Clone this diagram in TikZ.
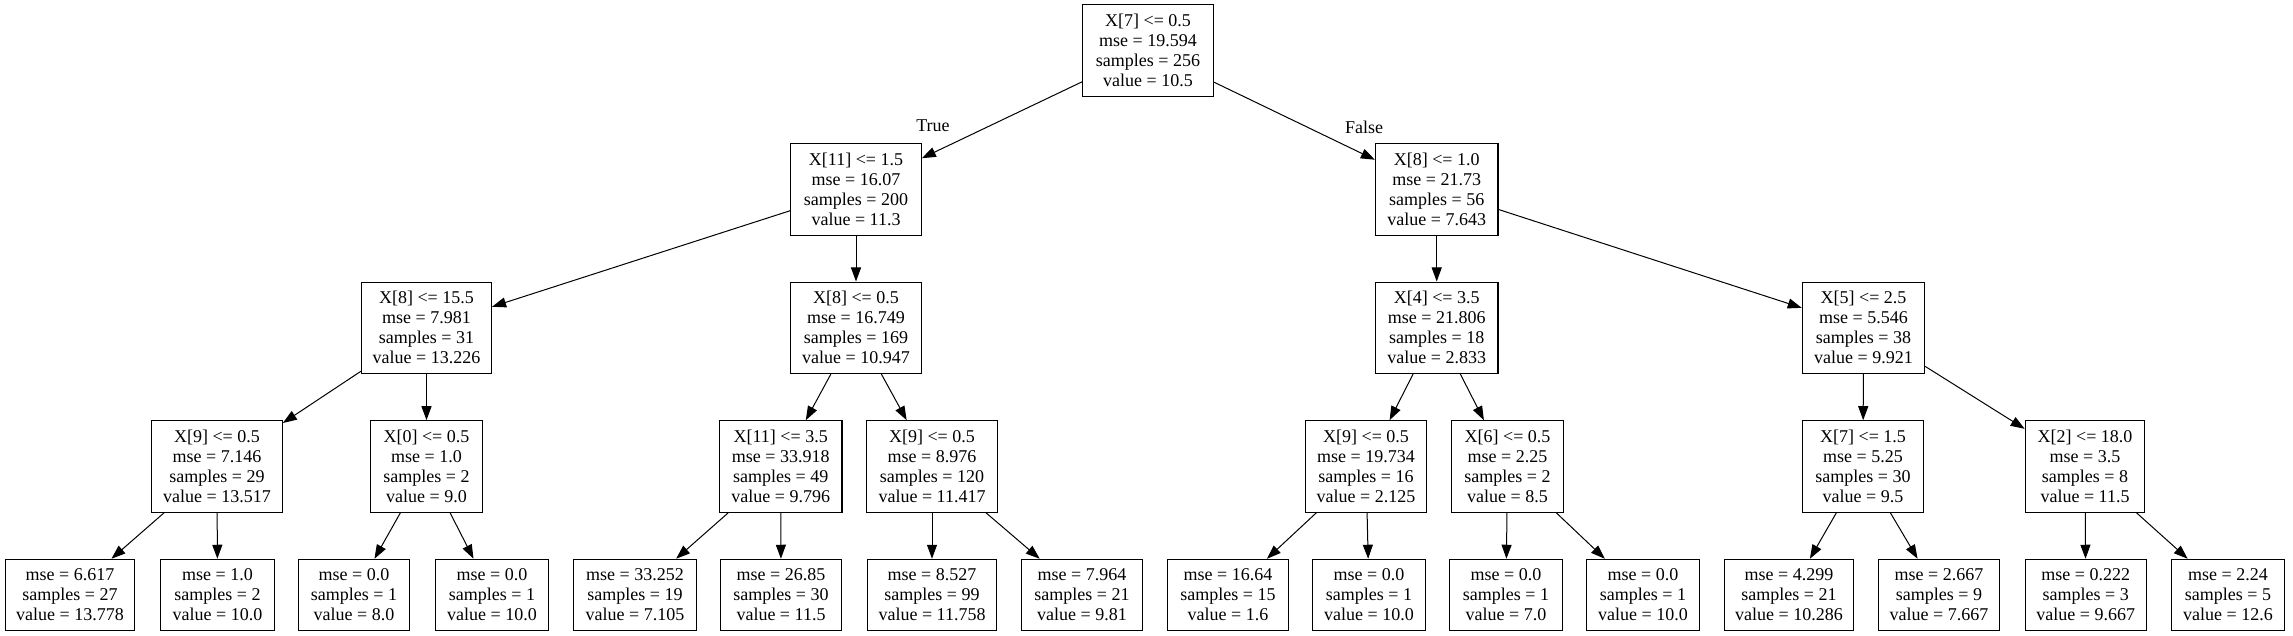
\documentclass[tikz,border=0pt]{standalone}
\usepackage{fontspec}
\setmainfont{Liberation Serif}
\usetikzlibrary{arrows.meta}
\tikzset{
  tnode/.style={draw, line width=1.1pt, rectangle, align=center, inner sep=0pt,
    font=\fontsize{18}{20}\selectfont, minimum height=91.5pt},
  leaf/.style={tnode, minimum height=71.4pt},
  edge/.style={line width=1pt, -{Triangle[length=14pt,width=10pt]}},
  elabel/.style={font=\fontsize{18}{20}\selectfont, inner sep=0pt}
}
\begin{document}
\begin{tikzpicture}[x=1pt,y=-1pt]
\useasboundingbox[fill=white] (0,0) rectangle (2293,636);
% level 0
\node[tnode, minimum width=131pt] (n0) at (1148,50.5) {X[7] <= 0.5\\mse = 19.594\\samples = 256\\value = 10.5};
% level 1
\node[tnode, minimum width=130.6pt] (n1) at (856,189.5) {X[11] <= 1.5\\mse = 16.07\\samples = 200\\value = 11.3};
\node[tnode, minimum width=122.5pt] (n2) at (1436.7,189.5) {X[8] <= 1.0\\mse = 21.73\\samples = 56\\value = 7.643};
% level 2
\node[tnode, minimum width=130pt] (n3) at (426.5,327.8) {X[8] <= 15.5\\mse = 7.981\\samples = 31\\value = 13.226};
\node[tnode, minimum width=130.6pt] (n4) at (856,327.8) {X[8] <= 0.5\\mse = 16.749\\samples = 169\\value = 10.947};
\node[tnode, minimum width=122.5pt] (n5) at (1436.7,327.8) {X[4] <= 3.5\\mse = 21.806\\samples = 18\\value = 2.833};
\node[tnode, minimum width=122.4pt] (n6) at (1863.5,327.8) {X[5] <= 2.5\\mse = 5.546\\samples = 38\\value = 9.921};
% level 3
\node[tnode, minimum width=130.6pt] (n7) at (217,466.5) {X[9] <= 0.5\\mse = 7.146\\samples = 29\\value = 13.517};
\node[tnode, minimum width=112.2pt] (n8) at (426.5,466.5) {X[0] <= 0.5\\mse = 1.0\\samples = 2\\value = 9.0};
\node[tnode, minimum width=122.5pt] (n9) at (780.7,466.5) {X[11] <= 3.5\\mse = 33.918\\samples = 49\\value = 9.796};
\node[tnode, minimum width=130.5pt] (n10) at (932,466.5) {X[9] <= 0.5\\mse = 8.976\\samples = 120\\value = 11.417};
\node[tnode, minimum width=121.8pt] (n11) at (1366,466.5) {X[9] <= 0.5\\mse = 19.734\\samples = 16\\value = 2.125};
\node[tnode, minimum width=111.5pt] (n12) at (1507.5,466.5) {X[6] <= 0.5\\mse = 2.25\\samples = 2\\value = 8.5};
\node[tnode, minimum width=121.7pt] (n13) at (1863,466.5) {X[7] <= 1.5\\mse = 5.25\\samples = 30\\value = 9.5};
\node[tnode, minimum width=119.6pt] (n14) at (2085,466.5) {X[2] <= 18.0\\mse = 3.5\\samples = 8\\value = 11.5};
% leaves
\node[leaf, minimum width=128.3pt] (l1) at (70,595) {mse = 6.617\\samples = 27\\value = 13.778};
\node[leaf, minimum width=113.7pt] (l2) at (217.5,595) {mse = 1.0\\samples = 2\\value = 10.0};
\node[leaf, minimum width=111.5pt] (l3) at (354,595) {mse = 0.0\\samples = 1\\value = 8.0};
\node[leaf, minimum width=113pt] (l4) at (492,595) {mse = 0.0\\samples = 1\\value = 10.0};
\node[leaf, minimum width=122.5pt] (l5) at (635,595) {mse = 33.252\\samples = 19\\value = 7.105};
\node[leaf, minimum width=121.8pt] (l6) at (781,595) {mse = 26.85\\samples = 30\\value = 11.5};
\node[leaf, minimum width=129.8pt] (l7) at (932,595) {mse = 8.527\\samples = 99\\value = 11.758};
\node[leaf, minimum width=121pt] (l8) at (1082,595) {mse = 7.964\\samples = 21\\value = 9.81};
\node[leaf, minimum width=120.2pt] (l9) at (1228,595) {mse = 16.64\\samples = 15\\value = 1.6};
\node[leaf, minimum width=112.9pt] (l10) at (1369,595) {mse = 0.0\\samples = 1\\value = 10.0};
\node[leaf, minimum width=112.2pt] (l11) at (1506,595) {mse = 0.0\\samples = 1\\value = 7.0};
\node[leaf, minimum width=112.3pt] (l12) at (1643,595) {mse = 0.0\\samples = 1\\value = 10.0};
\node[leaf, minimum width=129.8pt] (l13) at (1789,595) {mse = 4.299\\samples = 21\\value = 10.286};
\node[leaf, minimum width=121.7pt] (l14) at (1939,595) {mse = 2.667\\samples = 9\\value = 7.667};
\node[leaf, minimum width=121pt] (l15) at (2085.7,595) {mse = 0.222\\samples = 3\\value = 9.667};
\node[leaf, minimum width=112.2pt] (l16) at (2228,595) {mse = 2.24\\samples = 5\\value = 12.6};
% edge labels
\node[elabel] (ltrue) at (933,126) {True};
\node[elabel] (lfalse) at (1364,127) {False};
% edges
\draw[edge] (n0) -- (n1);
\draw[edge] (n0) -- (n2);
\draw[edge] (n1) -- (n3);
\draw[edge] (n1) -- (n4);
\draw[edge] (n2) -- (n5);
\draw[edge] (n2) -- (n6);
\draw[edge] (n3) -- (n7);
\draw[edge] (n3) -- (n8);
\draw[edge] (n4) -- (n9);
\draw[edge] (n4) -- (n10);
\draw[edge] (n5) -- (n11);
\draw[edge] (n5) -- (n12);
\draw[edge] (n6) -- (n13);
\draw[edge] (n6) -- (n14);
\draw[edge] (n7) -- (l1);
\draw[edge] (n7) -- (l2);
\draw[edge] (n8) -- (l3);
\draw[edge] (n8) -- (l4);
\draw[edge] (n9) -- (l5);
\draw[edge] (n9) -- (l6);
\draw[edge] (n10) -- (l7);
\draw[edge] (n10) -- (l8);
\draw[edge] (n11) -- (l9);
\draw[edge] (n11) -- (l10);
\draw[edge] (n12) -- (l11);
\draw[edge] (n12) -- (l12);
\draw[edge] (n13) -- (l13);
\draw[edge] (n13) -- (l14);
\draw[edge] (n14) -- (l15);
\draw[edge] (n14) -- (l16);
\end{tikzpicture}
\end{document}
